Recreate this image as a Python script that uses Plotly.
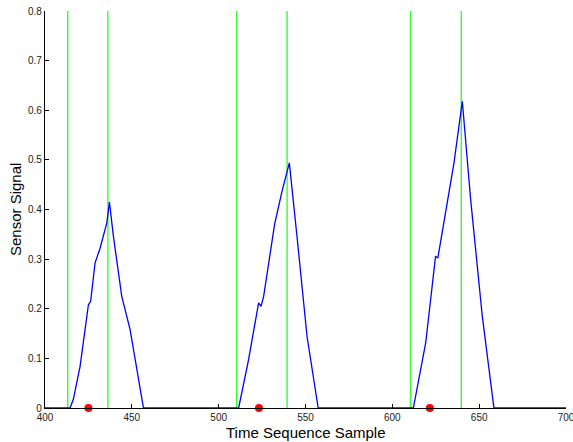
import plotly.graph_objects as go

# Sensor signal samples (time sequence sample, signal value)
sample_t = [400, 414.4, 416.3, 420.2, 425.0, 426.3, 428.8, 431.7, 435.6, 437.1, 439.4, 444.2, 449.0, 456.7,
            511.5, 517.2, 523.0, 524.4, 525.9, 532.2, 536.5, 540.7, 545.1, 550.9, 557.3,
            612.1, 619.2, 624.9, 626.2, 629.7, 635.5, 640.3, 645.1, 651.8, 658.5, 700]
signal = [0, 0, 0.017, 0.084, 0.208, 0.215, 0.292, 0.322, 0.373, 0.415, 0.346, 0.225, 0.158, 0,
          0, 0.097, 0.212, 0.205, 0.225, 0.370, 0.437, 0.494, 0.346, 0.144, 0,
          0, 0.131, 0.306, 0.302, 0.373, 0.494, 0.618, 0.42, 0.185, 0, 0]

# Vertical event markers (green lines)
event_lines = [413.1, 436.2, 510.3, 539.4, 610.5, 639.7]

# Detected points (red dots)
dot_t = [425.0, 523.2, 621.6]
dot_v = [0, 0, 0]

x_ticks = [400, 450, 500, 550, 600, 650, 700]
y_ticks = [0, 0.1, 0.2, 0.3, 0.4, 0.5, 0.6, 0.7, 0.8]
y_tick_text = ["0", "0.1", "0.2", "0.3", "0.4", "0.5", "0.6", "0.7", "0.8"]
x_range = [400, 700]
y_range = [0, 0.8]
x_title = "Time Sequence Sample"
y_title = "Sensor Signal"

FONT = "Liberation Sans, Arial, sans-serif"

fig = go.Figure()

for xv in event_lines:
    fig.add_trace(go.Scatter(x=[xv, xv], y=y_range, mode="lines",
                             line=dict(color="#33ff33", width=1.4),
                             showlegend=False, hoverinfo="skip"))

fig.add_trace(go.Scatter(x=sample_t, y=signal, mode="lines",
                         line=dict(color="#0000ff", width=1.3),
                         showlegend=False))

fig.add_trace(go.Scatter(x=dot_t, y=dot_v, mode="markers",
                         marker=dict(color="#ff0000", size=8),
                         cliponaxis=False, showlegend=False))

axis_common = dict(
    showgrid=False, zeroline=False, showline=True, linecolor="#000000", linewidth=1.2,
    ticks="inside", ticklen=4, tickwidth=1, tickcolor="#000000",
    tickfont=dict(family=FONT, size=10, color="#222222"),
    mirror=False, automargin=False, ticklabeloverflow="allow",
)

fig.update_layout(
    width=573, height=442,
    margin=dict(l=45, r=7, t=11, b=34, autoexpand=False),
    paper_bgcolor="white", plot_bgcolor="white",
    xaxis=dict(range=x_range, tickvals=x_ticks, ticktext=[str(v) for v in x_ticks], **axis_common),
    yaxis=dict(range=y_range, tickvals=y_ticks, ticktext=y_tick_text, **axis_common),
    annotations=[
        dict(text=x_title, xref="paper", yref="paper", x=0.5, y=0, yshift=-14,
             xanchor="center", yanchor="top", showarrow=False,
             font=dict(family=FONT, size=15, color="#000000")),
        dict(text=y_title, xref="paper", yref="paper", x=0, y=0.5, xshift=-19,
             xanchor="right", yanchor="middle", textangle=-90, showarrow=False,
             font=dict(family=FONT, size=15, color="#000000")),
    ],
)

fig.write_html("out.html", config={"displayModeBar": False},
               post_script="document.body.style.margin='0';document.body.style.padding='0';")
